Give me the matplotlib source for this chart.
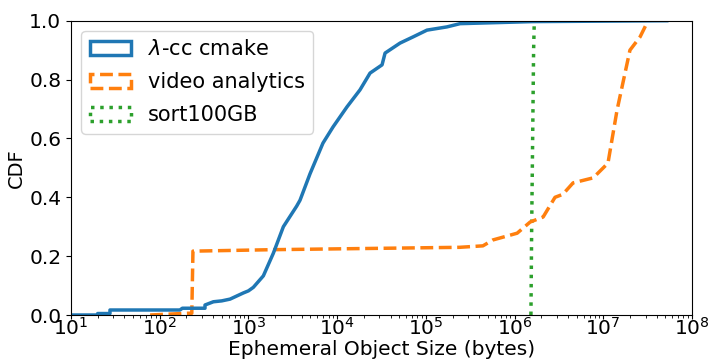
import numpy as np
import matplotlib
matplotlib.use('Agg')
import matplotlib.pyplot as plt
from matplotlib.patches import Patch

# lambda-cc cmake CDF (bytes, cdf)
cmake_x = [10, 20, 20, 27.5, 27.5, 169, 180, 324, 324, 403, 500, 621, 877, 1000, 1136,
           1473, 1910, 2477, 3500, 3816, 4950, 6920, 8990, 12900, 18100, 23500,
           32100, 34700, 51200, 71800, 103000, 173000, 243000, 1.6e6, 5.2e7]
cmake_y = [0.0, 0.0, 0.005, 0.005, 0.017, 0.017, 0.023, 0.023, 0.034, 0.045, 0.048,
           0.054, 0.075, 0.082, 0.094, 0.133, 0.21, 0.30, 0.37, 0.39, 0.48, 0.584,
           0.639, 0.707, 0.765, 0.822, 0.85, 0.89, 0.924, 0.945, 0.968, 0.979, 0.99,
           0.997, 1.0]

# video analytics CDF
video_x = [78, 208, 230, 237, 1890, 2.4e5, 4.4e5, 5.7e5, 1.07e6, 1.5e6, 2.1e6, 2.86e6,
           3.5e6, 4.57e6, 7.7e6, 1.13e7, 1.43e7, 2.0e7, 2.6e7, 3.2e7]
video_y = [0.0, 0.006, 0.006, 0.217, 0.222, 0.23, 0.235, 0.255, 0.278, 0.316, 0.333,
           0.40, 0.41, 0.449, 0.466, 0.516, 0.696, 0.90, 0.945, 1.0]

# sort100GB CDF
sort_x = [1.53e6, 1.56e6, 1.6e6, 1.64e6, 1.67e6]
sort_y = [0.0, 0.3, 0.6, 0.9, 1.0]

labels = ['$\\lambda$-cc cmake', 'video analytics', 'sort100GB']
colors = ['#1f77b4', '#ff7f0e', '#2ca02c']
styles = ['-', '--', ':']

fig = plt.figure(figsize=(7.1, 3.64), dpi=100)
ax = fig.add_axes([0.1, 0.1346, 0.8746, 0.8085])

ax.plot(sort_x, sort_y, color=colors[2], ls=styles[2], lw=2.5)
ax.plot(video_x, video_y, color=colors[1], ls=styles[1], lw=2.5)
ax.plot(cmake_x, cmake_y, color=colors[0], ls=styles[0], lw=2.5)

ax.set_xscale('log')
ax.set_xlim(10, 1e8)
ax.set_ylim(0, 1.0)
ax.set_xlabel('Ephemeral Object Size (bytes)', fontsize=14.5)
ax.set_ylabel('CDF', fontsize=14)
ax.xaxis.set_label_coords(0.5, -0.086)
ax.yaxis.set_label_coords(-0.072, 0.5)
ax.tick_params(axis='y', labelsize=14.5)
ax.tick_params(axis='x', labelsize=14.5, pad=-1.5, length=3)
ax.set_yticks([0, 0.2, 0.4, 0.6, 0.8, 1.0])

handles = [Patch(facecolor='none', edgecolor=c, linestyle=s, linewidth=2.5)
           for c, s in zip(colors, styles)]
ax.legend(handles, labels, loc='upper left', fontsize=15, borderaxespad=0.5,
          labelspacing=0.62)

fig.savefig('out.png', dpi=100)
